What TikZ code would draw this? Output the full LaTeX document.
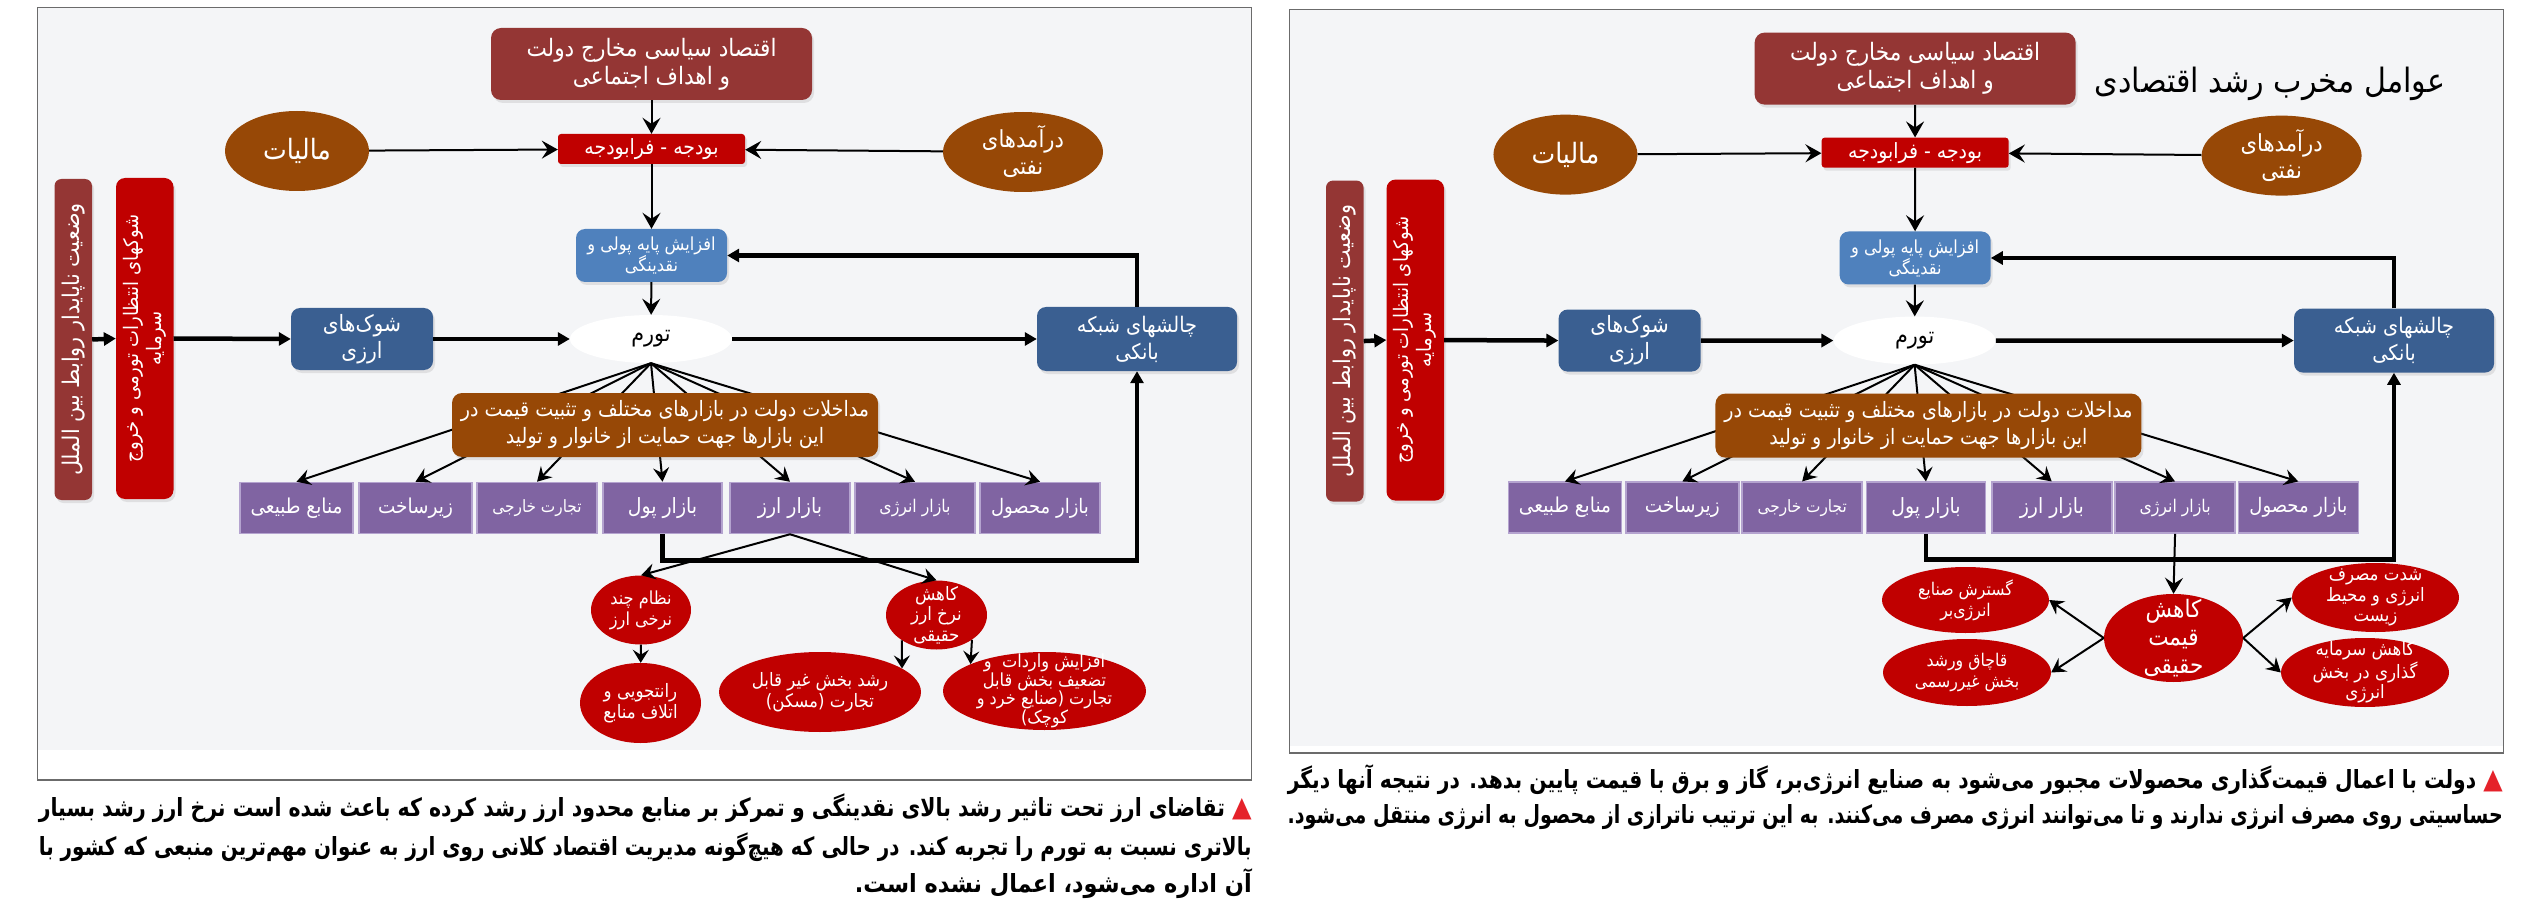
\documentclass[tikz,border=0pt]{standalone}
\usepackage{fontspec}
\usepackage{graphicx}
\usetikzlibrary{arrows.meta,shapes.geometric,shadows}
\TeXXeTstate=1
\newfontfamily\fa[Script=Arabic, FakeStretch=0.9]{DejaVu Sans}
\newfontfamily\symfont{DejaVu Sans}
\newcommand\rl[1]{\beginR #1\endR}
\newcommand\redtri{\textcolor{cTri}{\symfont\fontsize{28}{28}\selectfont ▲}}
\definecolor{cTop}{HTML}{943634}
\definecolor{cBud}{HTML}{C00000}
\definecolor{cBrown}{HTML}{974806}
\definecolor{cBlue}{HTML}{4F81BD}
\definecolor{cNavy}{HTML}{3A5F91}
\definecolor{cPurple}{HTML}{8064A2}
\definecolor{cPurpleEdge}{HTML}{B4A3CF}
\definecolor{cBg}{HTML}{F4F5F7}
\definecolor{cFrame}{HTML}{6B6B6B}
\definecolor{cTri}{HTML}{E5222A}
\tikzset{
  lbl/.style={font=\fa, text=white, align=center, inner sep=0pt},
  rbox/.style={lbl, rectangle, rounded corners=#1, drop shadow={opacity=0.18, shadow xshift=2pt, shadow yshift=-3pt}},
  ell/.style={lbl, ellipse, inner xsep=0pt, inner ysep=-16pt},
  pbox/.style={lbl, rectangle, fill=cPurple, draw=cPurpleEdge, line width=1.5pt, minimum height=51pt},
  thinarr/.style={line width=2pt, -{Stealth[length=16pt,width=18pt,inset=6pt]}},
  shortarr/.style={line width=2pt, -{Stealth[length=13pt,width=16pt,inset=5pt]}},
  fanarr/.style={line width=2pt, -{Stealth[length=14pt,width=16pt,inset=5pt]}},
  thickarr/.style={line width=4.5pt, -{Triangle[length=12pt,width=13pt]}},
  caption/.style={anchor=east, inner sep=0pt, font=\fa\bfseries\fontsize{25}{30}\selectfont, text=black},
}
\newcommand\panelcore{%
  \node[rbox=10pt, fill=cTop, minimum width=321pt, minimum height=72pt, font=\fa\fontsize{24}{28}\selectfont] (top) at (651.5,64) {\rl{اقتصاد سیاسی مخارج دولت}\\\rl{و اهداف اجتماعی}};
  \node[rbox=3pt, fill=cBud, minimum width=187pt, minimum height=30pt, font=\fa\fontsize{21}{24}\selectfont] (budget) at (651.5,149) {\rl{بودجه - فرابودجه}};
  \node[ell, fill=cBrown, minimum width=144pt, minimum height=80pt, font=\fa\fontsize{28}{32}\selectfont] (maliat) at (297,151) {\rl{مالیات}};
  \node[ell, fill=cBrown, minimum width=160pt, minimum height=80pt, font=\fa\fontsize{23.5}{27}\selectfont] (naft) at (1023,152) {\rl{درآمدهای}\\\rl{نفتی}};
  \node[rbox=9pt, fill=cBlue, minimum width=151pt, minimum height=53pt, font=\fa\fontsize{18}{21}\selectfont] (afz) at (651.5,255.5) {\rl{افزایش پایه پولی و}\\\rl{نقدینگی}};
  \node[ell, fill=white, text=black, minimum width=162pt, minimum height=48pt, font=\fa\fontsize{23}{27}\selectfont] (tavarom) at (651,339) {\rl{تورم}};
  \node[rbox=9pt, fill=cNavy, minimum width=142pt, minimum height=62pt, font=\fa\fontsize{22.5}{27}\selectfont] (shok) at (362,339) {\rl{شوک‌های}\\\rl{ارزی}};
  \node[rbox=9pt, fill=cNavy, minimum width=200pt, minimum height=64pt, font=\fa\fontsize{21.5}{27}\selectfont] (chalesh) at (1137,339) {\rl{چالشهای شبکه}\\\rl{بانکی}};
  \node[rbox=7pt, fill=cTop, rotate=90, minimum width=321pt, minimum height=37.5pt, font=\fa\fontsize{23}{26}\selectfont] (bar1) at (73.25,339.5) {\rl{وضعیت ناپایدار روابط بین الملل}};
  \node[rbox=9pt, fill=cBud, rotate=90, minimum width=321pt, minimum height=57.5pt, font=\fa\fontsize{20}{23}\selectfont] (bar2) at (144.75,338.5) {\rl{شوکهای انتظارات تورمی و خروج}\\\rl{سرمایه}};
  \node[pbox, minimum width=113pt, font=\fa\fontsize{20.5}{24}\selectfont] (p1) at (296.5,508) {\rl{منابع طبیعی}};
  \node[pbox, minimum width=113pt, font=\fa\fontsize{20.5}{24}\selectfont] (p2) at (415.5,508) {\rl{زیرساخت}};
  \node[pbox, minimum width=120pt, font=\fa\fontsize{17}{20}\selectfont] (p3) at (537,508) {\rl{تجارت خارجی}};
  \node[pbox, minimum width=119pt, font=\fa\fontsize{21}{24}\selectfont] (p4) at (662.5,508) {\rl{بازار پول}};
  \node[pbox, minimum width=120pt, font=\fa\fontsize{21}{24}\selectfont] (p5) at (790,508) {\rl{بازار ارز}};
  \node[pbox, minimum width=120pt, font=\fa\fontsize{17.5}{20}\selectfont] (p6) at (915,508) {\rl{بازار انرژی}};
  \node[pbox, minimum width=120pt, font=\fa\fontsize{20}{24}\selectfont] (p7) at (1040,508) {\rl{بازار محصول}};
  \foreach \p in {p1,p2,p3,p4,p5,p6,p7} {\draw[fanarr] (tavarom.south) -- (\p.north);}
  \node[rbox=10pt, fill=cBrown, minimum width=426pt, minimum height=64pt, font=\fa\fontsize{21.2}{27}\selectfont] (brown) at (665,425) {\rl{مداخلات دولت در بازارهای مختلف و تثبیت قیمت در}\\\rl{این بازارها جهت حمایت از خانوار و تولید}};
  \draw[thinarr] (top) -- (budget);
  \draw[thinarr] (maliat) -- (budget);
  \draw[thinarr] (naft) -- (budget);
  \draw[thinarr] (budget) -- (afz);
  \draw[thinarr] (afz) -- (tavarom);
  \draw[thickarr] (bar1.south) -- (bar2.north);
  \draw[thickarr] (bar2.south) -- (shok.west);
  \draw[thickarr] (shok) -- (tavarom);
  \draw[thickarr] (tavarom) -- (chalesh);
  \draw[thickarr] (chalesh.north) |- (afz.east);
  \draw[thickarr] (p4.south) -- ++(0,26) -| (chalesh.south);
}
\begin{document}
\begin{tikzpicture}[x=1pt,y=-1pt]
\useasboundingbox (0,0) rectangle (2544,909);
\fill[white] (0,0) rectangle (2544,909);
% panel backgrounds and frames
\fill[cBg] (38,8) rectangle (1251,750);
\draw[cFrame, line width=1.5pt] (37.5,7.5) rectangle (1251.5,780);
\fill[cBg] (1290,10) rectangle (2503,746);
\draw[cFrame, line width=1.5pt] (1289.5,9.5) rectangle (2503.5,753);

\begin{scope}[name prefix=L-]
  \panelcore
\end{scope}
\begin{scope}[shift={(1272.5,5.3)}, xscale=0.9864, yscale=0.989, name prefix=R-]
  \panelcore
\end{scope}

% left panel: exchange market consequences
\node[ell, fill=cBud, minimum width=100pt, minimum height=69pt, font=\fa\fontsize{18}{21}\selectfont] (nezam) at (641,610) {\rl{نظام چند}\\\rl{نرخی ارز}};
\node[ell, fill=cBud, minimum width=121pt, minimum height=80pt, font=\fa\fontsize{18.5}{21}\selectfont] (rant) at (640.5,703) {\rl{رانتجویی و}\\\rl{اتلاف منابع}};
\node[ell, fill=cBud, minimum width=101pt, minimum height=69pt, font=\fa\fontsize{18.5}{20.5}\selectfont] (kahesh) at (936.5,615) {\rl{کاهش}\\\rl{نرخ ارز}\\\rl{حقیقی}};
\node[ell, fill=cBud, minimum width=202pt, minimum height=80pt, font=\fa\fontsize{18.5}{21}\selectfont] (rosh) at (820,692) {\rl{رشد بخش غیر قابل}\\\rl{تجارت (مسکن)}};
\node[ell, fill=cBud, minimum width=203pt, minimum height=78pt, font=\fa\fontsize{18}{18.5}\selectfont] (vared) at (1044.5,691) {\rl{افزایش واردات\ \ و}\\\rl{تضعیف بخش قابل}\\\rl{تجارت (صنایع خرد و}\\\rl{کوچک)}};
\draw[fanarr] (L-p5.south) -- (nezam.north);
\draw[fanarr] (L-p5.south) -- (kahesh.north);
\draw[shortarr] (nezam) -- (rant);
\draw[shortarr] (kahesh.216) -- (rosh.16);
\draw[shortarr] (kahesh.325) -- (vared.160);

% right panel: energy market consequences
\node[font=\fa\fontsize{33.5}{38}\selectfont, text=black, inner sep=0pt] (title) at (2270,84) {\rl{عوامل مخرب رشد اقتصادی}};
\node[ell, fill=cBud, minimum width=139pt, minimum height=88pt, font=\fa\fontsize{24}{28}\selectfont] (kq) at (2173.5,638) {\rl{کاهش}\\\rl{قیمت}\\\rl{حقیقی}};
\node[ell, fill=cBud, minimum width=167pt, minimum height=66pt, font=\fa\fontsize{17.5}{21}\selectfont] (gos) at (1965.5,600) {\rl{گسترش صنایع}\\\rl{انرژی‌بر}};
\node[ell, fill=cBud, minimum width=168pt, minimum height=67pt, font=\fa\fontsize{17.5}{21}\selectfont] (qach) at (1967,672.5) {\rl{قاچاق ورشد}\\\rl{بخش غیررسمی}};
\node[ell, fill=cBud, minimum width=167pt, minimum height=69pt, font=\fa\fontsize{18.5}{20.5}\selectfont] (shed) at (2375.5,597.5) {\rl{شدت مصرف}\\\rl{انرژی و محیط}\\\rl{زیست}};
\node[ell, fill=cBud, minimum width=168pt, minimum height=69pt, font=\fa\fontsize{18.5}{20.5}\selectfont] (sarm) at (2365,672.5) {\rl{کاهش سرمایه}\\\rl{گذاری در بخش}\\\rl{انرژی}};
\draw[thinarr] (R-p6.south) -- (kq.north);
\draw[fanarr] (kq.west) -- (gos.east);
\draw[fanarr] (kq.west) -- (qach.east);
\draw[fanarr] (kq.east) -- (shed.west);
\draw[fanarr] (kq.east) -- (sarm.west);

% captions
\node[caption] (capL1) at (1252,808) {\resizebox{1213pt}{\height}{\rl{تقاضای ارز تحت تاثیر رشد بالای نقدینگی و تمرکز بر منابع محدود ارز رشد کرده که باعث شده است نرخ ارز رشد بسیار}\ \redtri}};
\node[caption] (capL2) at (1252,847) {\resizebox{1213pt}{\height}{\rl{بالاتری نسبت به تورم را تجربه کند. در حالی که هیچ‌گونه مدیریت اقتصاد کلانی روی ارز به عنوان مهم‌ترین منبعی که کشور با}}};
\node[caption] (capL3) at (1252,884) {\resizebox{397pt}{\height}{\rl{آن اداره می‌شود، اعمال نشده است.}}};
\node[caption] (capR1) at (2503,780) {\resizebox{1215pt}{\height}{\rl{دولت با اعمال قیمت‌گذاری محصولات مجبور می‌شود به صنایع انرژی‌بر، گاز و برق با قیمت پایین بدهد. در نتیجه آنها دیگر}\ \redtri}};
\node[caption] (capR2) at (2503,817) {\resizebox{1215pt}{\height}{\rl{حساسیتی روی مصرف انرژی ندارند و تا می‌توانند انرژی مصرف می‌کنند. به این ترتیب ناترازی از محصول به انرژی منتقل می‌شود.}}};
\end{tikzpicture}
\end{document}
